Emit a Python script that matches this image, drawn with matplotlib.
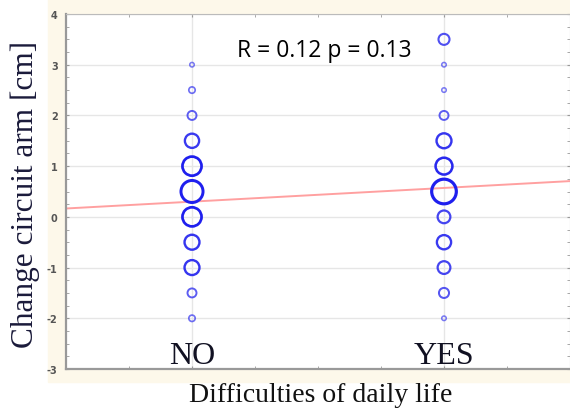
import numpy as np
import matplotlib.pyplot as plt
from matplotlib.patches import Rectangle

plt.rcParams['axes.unicode_minus'] = False

# categories on the x axis
groups = ['NO', 'YES']

# change of arm circuit [cm] and how many subjects had each value
no_values = [3, 2.5, 2, 1.5, 1, 0.5, 0, -0.5, -1, -1.5, -2]
no_counts = [1, 2, 4, 10, 18, 24, 18, 11, 11, 4, 2]
yes_values = [3.5, 3, 2.5, 2, 1.5, 1, 0.5, 0, -0.5, -1, -1.5, -2]
yes_counts = [6, 1, 1, 4, 11, 14, 30, 8, 10, 8, 5, 1]

# fitted line read at the two groups
fit_values = [0.30, 0.57]
stats_text = 'R = 0.12 p = 0.13'

W, H = 570, 410
fig = plt.figure(figsize=(W / 100, H / 100), dpi=100)

# beige frame behind the axes, like the statistica export
fig.patches.append(Rectangle((48 / W, (H - 383) / H), 1 - 48 / W, 383 / H,
                             transform=fig.transFigure, color='#fdf8ea', zorder=-10))

ax = fig.add_axes([66 / W, 40 / H, 1 - 66 / W, 355 / H])
ax.set_zorder(1)
ax.set_facecolor('white')
ax.set_xlim(-0.5, 1.5)
ax.set_ylim(-3, 4)

ax.set_yticks(range(-3, 5))
ax.set_yticks(np.arange(-3, 4.01, 0.25), minor=True)
ax.set_xticks([0, 1])
ax.set_xticks(np.arange(-0.5, 1.51, 0.25), minor=True)
ax.set_xticklabels([])
ax.grid(True, which='major', color='#e6e6e6', lw=1)
ax.tick_params(which='both', direction='in', length=2.5, color='#999999',
               top=True, right=True)
ax.tick_params(axis='y', which='major', labelsize=7, labelcolor='#555555', pad=6)
for lab in ax.get_yticklabels():
    lab.set_fontweight('bold')

for side in ['left', 'bottom']:
    ax.spines[side].set_color('#999999')
    ax.spines[side].set_linewidth(1.6)
for side in ['top', 'right']:
    ax.spines[side].set_color('#bbbbbb')
    ax.spines[side].set_linewidth(0.8)

# regression line across the whole plot
slope = fit_values[1] - fit_values[0]
xs = np.array([-0.5, 1.5])
ax.plot(xs, fit_values[0] + slope * xs, color='#ffa0a0', lw=1.4, zorder=2)


def bubbles(xpos, values, counts):
    counts = np.array(counts, dtype=float)
    diam = 4.5 * np.sqrt(counts) * 0.72
    lw = (1.2 + 0.08 * diam / 0.72) * 0.72
    alpha = np.clip(0.45 + 0.03 * diam / 0.72, 0, 1)
    for v, d, w, a in zip(values, diam, lw, alpha):
        ax.scatter([xpos], [v], s=d ** 2, facecolors='none', edgecolors='#1f1fee',
                   linewidths=w, alpha=a, zorder=3)


bubbles(0, no_values, no_counts)
bubbles(1, yes_values, yes_counts)

for i, g in enumerate(groups):
    ax.text(i, -2.88, g, ha='center', va='baseline', fontsize=23,
            family='Liberation Serif', color='#111122')

fig.text(324 / W, (H - 57) / H, stats_text, ha='center', va='baseline',
         fontsize=16.5, family='Open Sans', color='black')

fig.text(25 / W, (H - 194) / H, 'Change circuit arm [cm]', rotation=90,
         ha='center', va='center', family='Liberation Serif', fontsize=22.5,
         color='#1a1a3a')
fig.text(321 / W, (H - 402) / H, 'Difficulties of daily life', ha='center',
         va='baseline', family='Liberation Serif', fontsize=20, color='#111111')

fig.savefig('out.png', dpi=100)
